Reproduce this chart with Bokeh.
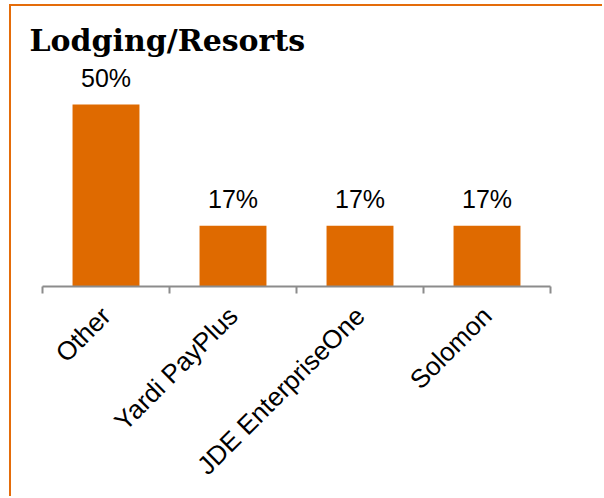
import math
from bokeh.plotting import figure
from bokeh.models import Range1d, FixedTicker, ColumnDataSource
from bokeh.core.properties import value
from bokeh.embed import file_html
from bokeh.resources import INLINE

# ---- data ----
categories = ["Other", "Yardi PayPlus", "JDE EnterpriseOne", "Solomon"]
shares = [50.0, 16.7, 16.7, 16.7]
share_labels = ["50%", "17%", "17%", "17%"]
title_text = "Lodging/Resorts"

ORANGE = "#DF6A00"
BORDER = "#E46C0A"
AXIS_GREY = "#8C8C8C"

positions = [i + 0.5 for i in range(len(categories))]
boundaries = [float(i) for i in range(len(categories) + 1)]

src = ColumnDataSource(dict(x=positions, top=shares, lab=share_labels))

p = figure(width=593, height=492, output_backend="svg", toolbar_location=None,
           x_range=Range1d(0, len(categories)), y_range=Range1d(0, 62.1),
           min_border_left=31, min_border_right=54, min_border_top=54,
           min_border_bottom=212, title=title_text,
           styles={"border-top": f"2px solid {BORDER}",
                   "border-left": f"2px solid {BORDER}",
                   "margin-left": "9px", "margin-top": "4px"})

p.title.text_font = "DejaVu Serif"
p.title.text_font_style = "bold"
p.title.text_font_size = "30px"
p.title.text_color = "#000000"
p.title.align = "left"
p.title.offset = -13
p.title.standoff = 6

p.vbar(x="x", top="top", width=0.527, source=src, fill_color=ORANGE,
       line_color=None)
p.text(x="x", y="top", text="lab", source=src, text_align="center",
       text_baseline="alphabetic", y_offset=-27,
       text_font=value("Liberation Sans"), text_font_size="25px",
       text_color="#000000")

p.xgrid.visible = False
p.ygrid.visible = False
p.yaxis.visible = False
p.outline_line_color = None

xa = p.xaxis[0]
xa.ticker = FixedTicker(ticks=positions, minor_ticks=boundaries)
xa.major_label_overrides = {pos: c for pos, c in zip(positions, categories)}
xa.major_label_orientation = math.pi / 4
xa.major_label_text_font = "Liberation Sans"
xa.major_label_text_font_size = "26px"
xa.major_label_text_color = "#000000"
xa.major_label_standoff = 18
xa.major_tick_line_color = None
xa.major_tick_out = 0
xa.major_tick_in = 0
xa.minor_tick_line_color = AXIS_GREY
xa.minor_tick_line_width = 2
xa.minor_tick_out = 7
xa.minor_tick_in = 0
xa.axis_line_color = AXIS_GREY
xa.axis_line_width = 2

open("out.html", "w").write(file_html(p, INLINE))
